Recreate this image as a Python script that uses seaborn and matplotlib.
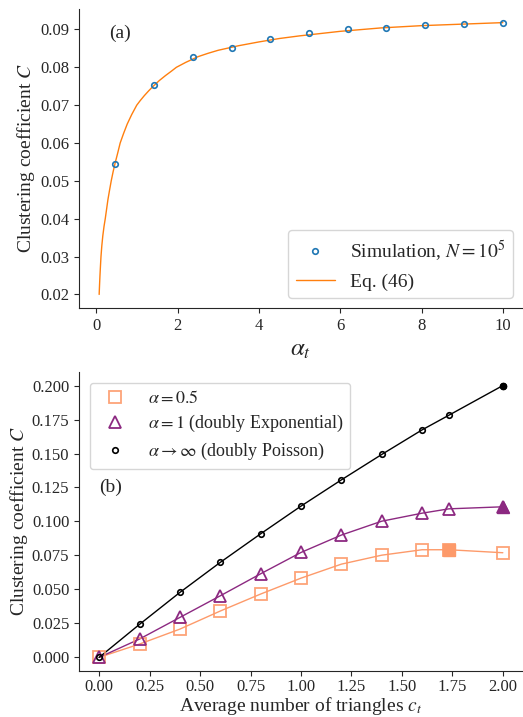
import numpy as np
import pandas as pd
import matplotlib
matplotlib.use("Agg")
import matplotlib.pyplot as plt
import seaborn as sns

sns.set_style("ticks")
plt.rcParams['font.family'] = ['Liberation Serif', 'DejaVu Serif']
plt.rcParams['mathtext.fontset'] = 'stix'

# ---------------- panel (a) data ----------------
sim_alpha = [0.46, 1.43, 2.37, 3.33, 4.27, 5.22, 6.18, 7.13, 8.08, 9.04, 10.0]
sim_C = [0.0545, 0.0752, 0.0827, 0.0851, 0.0875, 0.0890, 0.0900, 0.0905,
         0.0911, 0.0915, 0.0918]

eq_alpha = [0.07, 0.08, 0.09, 0.10, 0.115, 0.135, 0.16, 0.19, 0.22, 0.25,
            0.285, 0.325, 0.367, 0.415, 0.47, 0.525, 0.587, 0.67, 0.76,
            0.87, 0.995, 1.08, 1.18, 1.29, 1.40, 1.55, 1.70, 1.85, 1.97,
            2.2, 2.5, 2.75, 3.0, 3.5, 4.0, 4.5, 5.0, 5.5, 6.0, 7.0, 8.0,
            9.0, 10.0]
eq_C = [0.0200, 0.0226, 0.0250, 0.0271, 0.0300, 0.0328, 0.0355, 0.0380,
        0.0400, 0.0423, 0.0450, 0.0475, 0.0500, 0.0525, 0.0550, 0.0573,
        0.0600, 0.0625, 0.0650, 0.0675, 0.0700, 0.0712, 0.0725, 0.0738,
        0.0750, 0.0765, 0.0778, 0.0790, 0.0800, 0.0813, 0.0828, 0.0837,
        0.0845, 0.0857, 0.0867, 0.0876, 0.0883, 0.0889, 0.0895, 0.0904,
        0.0910, 0.0914, 0.0918]

# ---------------- panel (b) data ----------------
ct = [0.0, 0.2, 0.4, 0.6, 0.8, 1.0, 1.2, 1.4, 1.6, 1.733, 2.0]
C_half = [0.0, 0.0098, 0.0208, 0.0341, 0.0466, 0.0583, 0.0686, 0.0752,
          0.0792, 0.0792, 0.0770]
C_one = [0.0, 0.0135, 0.0294, 0.0453, 0.0615, 0.0772, 0.0900, 0.1002,
         0.1061, 0.1093, 0.1108]
C_inf = [0.0, 0.0243, 0.0478, 0.0699, 0.0909, 0.1113, 0.1306, 0.1493,
         0.1674, 0.1782, 0.2000]
# highlighted (filled) points
fill_half = (1.733, 0.0792)
fill_one = (2.0, 0.1108)
fill_inf = (2.0, 0.2000)

c_orange = '#fd9a6a'
c_purple = '#8c2981'
c_black = '#000000'

fig = plt.figure(figsize=(5.23, 7.17), dpi=100)
ax1 = fig.add_axes([0.151, 0.5704, 0.849, 0.417])
ax2 = fig.add_axes([0.151, 0.0642, 0.849, 0.417])

#------------------ panel (a) ------------------
ax1.plot(sim_alpha, sim_C, 'o', mfc='none', mec='#1f77b4', ms=4, mew=1.2,
         label=r'Simulation, $N = 10^5$', zorder=3)
sns.lineplot(x=eq_alpha, y=eq_C, ax=ax1, color='#ff7f0e', lw=1,
             label='Eq. (46)', sort=False)
ax1.set_xticks([0, 2, 4, 6, 8, 10])
ax1.set_yticks([0.02, 0.03, 0.04, 0.05, 0.06, 0.07, 0.08, 0.09])
ax1.set_xlabel(r'$\alpha_t$', fontsize=18)
ax1.set_ylabel(r'Clustering coefficient $C$', fontsize=14, labelpad=2)
ax1.tick_params(labelsize=12)
ax1.text(0.068, 0.92, '(a)', transform=ax1.transAxes, fontsize=14,
         va='center')
ax1.legend(loc='lower right', fontsize=14, handlelength=2.0)

#------------------ panel (b) ------------------
ax2.plot(ct, C_half, 's', mfc='none', mec=c_orange, ms=8, mew=1.3,
         alpha=0.9, zorder=3, label=r'$\alpha = 0.5$')
sns.lineplot(x=ct, y=C_half, ax=ax2, color=c_orange, lw=1, legend=False)
ax2.plot(ct, C_one, '^', mfc='none', mec=c_purple, ms=8, mew=1.3,
         zorder=3, label=r'$\alpha = 1$ (doubly Exponential)')
sns.lineplot(x=ct, y=C_one, ax=ax2, color=c_purple, lw=1, legend=False)
ax2.plot(ct, C_inf, 'o', mfc='none', mec=c_black, ms=4, mew=1.2,
         zorder=3, label=r'$\alpha \rightarrow \infty$ (doubly Poisson)')
sns.lineplot(x=ct, y=C_inf, ax=ax2, color=c_black, lw=1, legend=False)

ax2.plot(*fill_half, 's', color=c_orange, ms=8, zorder=4)
ax2.plot(*fill_one, '^', color=c_purple, ms=8, zorder=4)
ax2.plot(*fill_inf, 'o', color=c_black, ms=4.5, zorder=4)

ax2.set_xticks([0, 0.25, 0.5, 0.75, 1.0, 1.25, 1.5, 1.75, 2.0])
ax2.set_xticklabels(['0.00', '0.25', '0.50', '0.75', '1.00', '1.25',
                     '1.50', '1.75', '2.00'])
ax2.set_yticks([0, 0.025, 0.05, 0.075, 0.1, 0.125, 0.15, 0.175, 0.2])
ax2.set_yticklabels(['0.000', '0.025', '0.050', '0.075', '0.100', '0.125',
                     '0.150', '0.175', '0.200'])
ax2.set_xlabel(r'Average number of triangles $c_t$', fontsize=14, labelpad=0)
ax2.set_ylabel(r'Clustering coefficient $C$', fontsize=14, labelpad=1)
ax2.tick_params(labelsize=12)
ax2.tick_params(axis='x', pad=2.5)
ax2.text(0.0, 0.125, '(b)', fontsize=14, va='center')
ax2.legend(loc='upper left', fontsize=13, handletextpad=0.8,
           labelspacing=0.35, borderaxespad=0.6)

sns.despine(fig=fig)
fig.savefig('out.png', dpi=100)
